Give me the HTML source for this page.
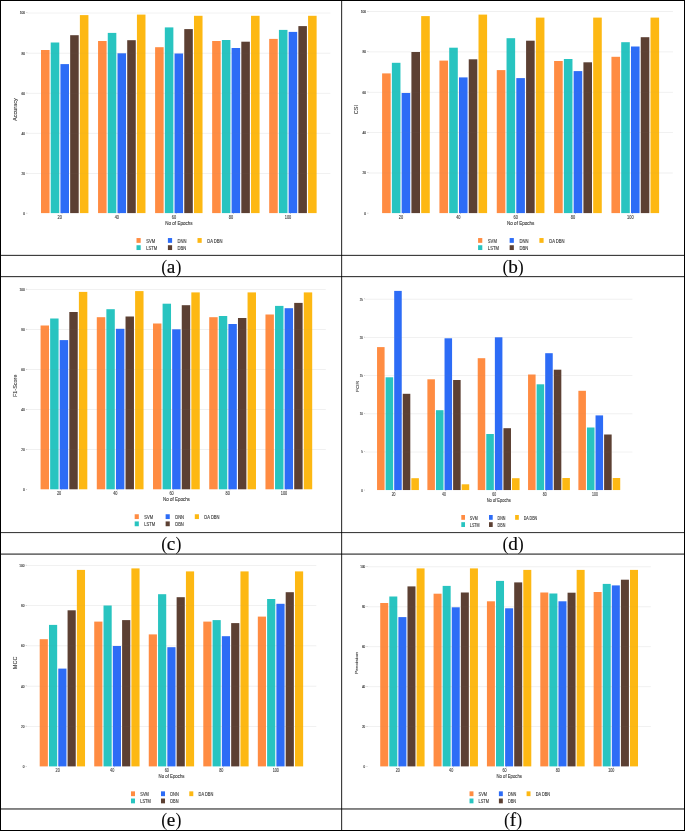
<!DOCTYPE html>
<html lang="en">
<head>
<meta charset="utf-8">
<title>Performance comparison charts</title>
<style>
html,body{margin:0;padding:0;background:#fff;}
body{width:685px;height:831px;overflow:hidden;position:relative;}
#fig{position:absolute;left:0;top:0;width:685px;height:831px;background:#fff;overflow:hidden;}
#fig svg{position:absolute;left:0;top:0;display:block;}
.chart text{white-space:pre;}
</style>
</head>
<body>
<div id="fig">
<svg width="685" height="831" viewBox="0 0 685 831" font-family="'Liberation Sans', 'DejaVu Sans', sans-serif">
<g class="chart" id="chart-a" transform="translate(1 0) scale(1.0000 1)">
<rect x="26.3" y="12.65" width="303.1" height="0.8" fill="#f3f3f3"/>
<rect x="26.3" y="52.75" width="303.1" height="0.8" fill="#f3f3f3"/>
<rect x="26.3" y="92.85" width="303.1" height="0.8" fill="#f3f3f3"/>
<rect x="26.3" y="132.85" width="303.1" height="0.8" fill="#f3f3f3"/>
<rect x="26.3" y="172.95" width="303.1" height="0.8" fill="#f3f3f3"/>
<rect x="25.4" y="12.6" width="0.9" height="0.4" fill="#666"/>
<text transform="translate(24 14.4) scale(0.2137 0.25)" font-size="15" text-anchor="end" fill="#262626" stroke="#262626" stroke-width="0.6" opacity="0.9">100</text>
<rect x="25.4" y="52.7" width="0.9" height="0.4" fill="#666"/>
<text transform="translate(24 54.5) scale(0.2137 0.25)" font-size="15" text-anchor="end" fill="#262626" stroke="#262626" stroke-width="0.6" opacity="0.9">80</text>
<rect x="25.4" y="92.8" width="0.9" height="0.4" fill="#666"/>
<text transform="translate(24 94.6) scale(0.2137 0.25)" font-size="15" text-anchor="end" fill="#262626" stroke="#262626" stroke-width="0.6" opacity="0.9">60</text>
<rect x="25.4" y="132.8" width="0.9" height="0.4" fill="#666"/>
<text transform="translate(24 134.6) scale(0.2137 0.25)" font-size="15" text-anchor="end" fill="#262626" stroke="#262626" stroke-width="0.6" opacity="0.9">40</text>
<rect x="25.4" y="172.9" width="0.9" height="0.4" fill="#666"/>
<text transform="translate(24 174.7) scale(0.2137 0.25)" font-size="15" text-anchor="end" fill="#262626" stroke="#262626" stroke-width="0.6" opacity="0.9">20</text>
<rect x="25.4" y="212.9" width="0.9" height="0.4" fill="#666"/>
<text transform="translate(24 214.7) scale(0.2137 0.25)" font-size="15" text-anchor="end" fill="#262626" stroke="#262626" stroke-width="0.6" opacity="0.9">0</text>
<rect x="40" y="50" width="8.55" height="163.1" fill="#FF8C42"/>
<rect x="49.72" y="42.5" width="8.55" height="170.6" fill="#28C4C0"/>
<rect x="59.44" y="64.1" width="8.55" height="149" fill="#2D6CF6"/>
<rect x="69.16" y="35.2" width="8.55" height="177.9" fill="#5C4033"/>
<rect x="78.88" y="15.1" width="8.55" height="198" fill="#FDB813"/>
<rect x="97.05" y="41" width="8.55" height="172.1" fill="#FF8C42"/>
<rect x="106.77" y="32.9" width="8.55" height="180.2" fill="#28C4C0"/>
<rect x="116.49" y="53.3" width="8.55" height="159.8" fill="#2D6CF6"/>
<rect x="126.21" y="40.2" width="8.55" height="172.9" fill="#5C4033"/>
<rect x="135.93" y="14.6" width="8.55" height="198.5" fill="#FDB813"/>
<rect x="154.1" y="47.2" width="8.55" height="165.9" fill="#FF8C42"/>
<rect x="163.82" y="27.4" width="8.55" height="185.7" fill="#28C4C0"/>
<rect x="173.54" y="53.5" width="8.55" height="159.6" fill="#2D6CF6"/>
<rect x="183.26" y="29.1" width="8.55" height="184" fill="#5C4033"/>
<rect x="192.98" y="15.8" width="8.55" height="197.3" fill="#FDB813"/>
<rect x="211.15" y="41" width="8.55" height="172.1" fill="#FF8C42"/>
<rect x="220.87" y="40" width="8.55" height="173.1" fill="#28C4C0"/>
<rect x="230.59" y="48" width="8.55" height="165.1" fill="#2D6CF6"/>
<rect x="240.31" y="41.7" width="8.55" height="171.4" fill="#5C4033"/>
<rect x="250.03" y="15.8" width="8.55" height="197.3" fill="#FDB813"/>
<rect x="268.2" y="38.9" width="8.55" height="174.2" fill="#FF8C42"/>
<rect x="277.92" y="29.9" width="8.55" height="183.2" fill="#28C4C0"/>
<rect x="287.64" y="31.9" width="8.55" height="181.2" fill="#2D6CF6"/>
<rect x="297.36" y="26.1" width="8.55" height="187" fill="#5C4033"/>
<rect x="307.08" y="15.8" width="8.55" height="197.3" fill="#FDB813"/>
<rect x="26.3" y="12.65" width="303.1" height="0.8" fill="#999" opacity="0.06"/>
<rect x="26.3" y="52.75" width="303.1" height="0.8" fill="#999" opacity="0.06"/>
<rect x="26.3" y="92.85" width="303.1" height="0.8" fill="#999" opacity="0.06"/>
<rect x="26.3" y="132.85" width="303.1" height="0.8" fill="#999" opacity="0.06"/>
<rect x="26.3" y="172.95" width="303.1" height="0.8" fill="#999" opacity="0.06"/>
<rect x="60.82" y="213.2" width="0.4" height="0.8" fill="#666"/>
<text transform="translate(58.8 218.95) scale(0.2137 0.25)" font-size="18.4" text-anchor="middle" fill="#262626" stroke="#262626" stroke-width="0.48" opacity="0.85">20</text>
<rect x="117.86" y="213.2" width="0.4" height="0.8" fill="#666"/>
<text transform="translate(115.85 218.95) scale(0.2137 0.25)" font-size="18.4" text-anchor="middle" fill="#262626" stroke="#262626" stroke-width="0.48" opacity="0.85">40</text>
<rect x="174.91" y="213.2" width="0.4" height="0.8" fill="#666"/>
<text transform="translate(172.9 218.95) scale(0.2137 0.25)" font-size="18.4" text-anchor="middle" fill="#262626" stroke="#262626" stroke-width="0.48" opacity="0.85">60</text>
<rect x="231.96" y="213.2" width="0.4" height="0.8" fill="#666"/>
<text transform="translate(229.95 218.95) scale(0.2137 0.25)" font-size="18.4" text-anchor="middle" fill="#262626" stroke="#262626" stroke-width="0.48" opacity="0.85">80</text>
<rect x="289.01" y="213.2" width="0.4" height="0.8" fill="#666"/>
<text transform="translate(287 218.95) scale(0.2137 0.25)" font-size="18.4" text-anchor="middle" fill="#262626" stroke="#262626" stroke-width="0.48" opacity="0.85">100</text>
<text transform="translate(177.9 224.8) scale(0.2137 0.25)" font-size="21.2" text-anchor="middle" fill="#262626" stroke="#262626" stroke-width="0.56" opacity="0.88">No of Epochs</text>
<text transform="translate(16.3 109.6) rotate(-90) scale(0.25 0.2137)" font-size="22" text-anchor="middle" fill="#262626" stroke="#262626" stroke-width="0.48" opacity="0.88">Accuracy</text>
<rect x="135.5" y="238.05" width="4.2" height="4.8" fill="#FF8C42"/>
<text transform="translate(145.2 242.65) scale(0.2137 0.25)" font-size="19.4" text-anchor="start" fill="#262626" stroke="#262626" stroke-width="0.56" opacity="0.88">SVM</text>
<rect x="135.5" y="245.23" width="4.2" height="4.8" fill="#28C4C0"/>
<text transform="translate(145.2 249.83) scale(0.2137 0.25)" font-size="19.4" text-anchor="start" fill="#262626" stroke="#262626" stroke-width="0.56" opacity="0.88">LSTM</text>
<rect x="166.9" y="238.05" width="4.2" height="4.8" fill="#2D6CF6"/>
<text transform="translate(176.6 242.65) scale(0.2137 0.25)" font-size="19.4" text-anchor="start" fill="#262626" stroke="#262626" stroke-width="0.56" opacity="0.88">DNN</text>
<rect x="166.9" y="245.23" width="4.2" height="4.8" fill="#5C4033"/>
<text transform="translate(176.6 249.83) scale(0.2137 0.25)" font-size="19.4" text-anchor="start" fill="#262626" stroke="#262626" stroke-width="0.56" opacity="0.88">DBN</text>
<rect x="196.5" y="238.05" width="4.2" height="4.8" fill="#FDB813"/>
<text transform="translate(206.2 242.65) scale(0.2137 0.25)" font-size="19.4" text-anchor="start" fill="#262626" stroke="#262626" stroke-width="0.56" opacity="0.88">DA DBN</text>
</g>
<g class="chart" id="chart-b" transform="translate(341.9 0) scale(1.0050 1)">
<rect x="26.3" y="11.15" width="303.1" height="0.8" fill="#f3f3f3"/>
<rect x="26.3" y="51.5" width="303.1" height="0.8" fill="#f3f3f3"/>
<rect x="26.3" y="91.85" width="303.1" height="0.8" fill="#f3f3f3"/>
<rect x="26.3" y="132.25" width="303.1" height="0.8" fill="#f3f3f3"/>
<rect x="26.3" y="172.6" width="303.1" height="0.8" fill="#f3f3f3"/>
<rect x="25.4" y="11.1" width="0.9" height="0.4" fill="#666"/>
<text transform="translate(24 12.9) scale(0.2137 0.25)" font-size="15" text-anchor="end" fill="#262626" stroke="#262626" stroke-width="0.6" opacity="0.9">100</text>
<rect x="25.4" y="51.45" width="0.9" height="0.4" fill="#666"/>
<text transform="translate(24 53.25) scale(0.2137 0.25)" font-size="15" text-anchor="end" fill="#262626" stroke="#262626" stroke-width="0.6" opacity="0.9">80</text>
<rect x="25.4" y="91.8" width="0.9" height="0.4" fill="#666"/>
<text transform="translate(24 93.6) scale(0.2137 0.25)" font-size="15" text-anchor="end" fill="#262626" stroke="#262626" stroke-width="0.6" opacity="0.9">60</text>
<rect x="25.4" y="132.2" width="0.9" height="0.4" fill="#666"/>
<text transform="translate(24 134) scale(0.2137 0.25)" font-size="15" text-anchor="end" fill="#262626" stroke="#262626" stroke-width="0.6" opacity="0.9">40</text>
<rect x="25.4" y="172.55" width="0.9" height="0.4" fill="#666"/>
<text transform="translate(24 174.35) scale(0.2137 0.25)" font-size="15" text-anchor="end" fill="#262626" stroke="#262626" stroke-width="0.6" opacity="0.9">20</text>
<rect x="25.4" y="212.9" width="0.9" height="0.4" fill="#666"/>
<text transform="translate(24 214.7) scale(0.2137 0.25)" font-size="15" text-anchor="end" fill="#262626" stroke="#262626" stroke-width="0.6" opacity="0.9">0</text>
<rect x="40" y="73.4" width="8.55" height="139.7" fill="#FF8C42"/>
<rect x="49.72" y="62.8" width="8.55" height="150.3" fill="#28C4C0"/>
<rect x="59.44" y="93" width="8.55" height="120.1" fill="#2D6CF6"/>
<rect x="69.16" y="52" width="8.55" height="161.1" fill="#5C4033"/>
<rect x="78.88" y="16.1" width="8.55" height="197" fill="#FDB813"/>
<rect x="97.05" y="60.6" width="8.55" height="152.5" fill="#FF8C42"/>
<rect x="106.77" y="47.7" width="8.55" height="165.4" fill="#28C4C0"/>
<rect x="116.49" y="77.4" width="8.55" height="135.7" fill="#2D6CF6"/>
<rect x="126.21" y="59.3" width="8.55" height="153.8" fill="#5C4033"/>
<rect x="135.93" y="14.6" width="8.55" height="198.5" fill="#FDB813"/>
<rect x="154.1" y="70.1" width="8.55" height="143" fill="#FF8C42"/>
<rect x="163.82" y="38.2" width="8.55" height="174.9" fill="#28C4C0"/>
<rect x="173.54" y="78.1" width="8.55" height="135" fill="#2D6CF6"/>
<rect x="183.26" y="40.7" width="8.55" height="172.4" fill="#5C4033"/>
<rect x="192.98" y="17.6" width="8.55" height="195.5" fill="#FDB813"/>
<rect x="211.15" y="61" width="8.55" height="152.1" fill="#FF8C42"/>
<rect x="220.87" y="59" width="8.55" height="154.1" fill="#28C4C0"/>
<rect x="230.59" y="71.1" width="8.55" height="142" fill="#2D6CF6"/>
<rect x="240.31" y="62.3" width="8.55" height="150.8" fill="#5C4033"/>
<rect x="250.03" y="17.6" width="8.55" height="195.5" fill="#FDB813"/>
<rect x="268.2" y="56.8" width="8.55" height="156.3" fill="#FF8C42"/>
<rect x="277.92" y="42.2" width="8.55" height="170.9" fill="#28C4C0"/>
<rect x="287.64" y="46.5" width="8.55" height="166.6" fill="#2D6CF6"/>
<rect x="297.36" y="37.2" width="8.55" height="175.9" fill="#5C4033"/>
<rect x="307.08" y="17.6" width="8.55" height="195.5" fill="#FDB813"/>
<rect x="26.3" y="11.15" width="303.1" height="0.8" fill="#999" opacity="0.06"/>
<rect x="26.3" y="51.5" width="303.1" height="0.8" fill="#999" opacity="0.06"/>
<rect x="26.3" y="91.85" width="303.1" height="0.8" fill="#999" opacity="0.06"/>
<rect x="26.3" y="132.25" width="303.1" height="0.8" fill="#999" opacity="0.06"/>
<rect x="26.3" y="172.6" width="303.1" height="0.8" fill="#999" opacity="0.06"/>
<rect x="60.82" y="213.2" width="0.4" height="0.8" fill="#666"/>
<text transform="translate(58.8 218.95) scale(0.2137 0.25)" font-size="18.4" text-anchor="middle" fill="#262626" stroke="#262626" stroke-width="0.48" opacity="0.85">20</text>
<rect x="117.86" y="213.2" width="0.4" height="0.8" fill="#666"/>
<text transform="translate(115.85 218.95) scale(0.2137 0.25)" font-size="18.4" text-anchor="middle" fill="#262626" stroke="#262626" stroke-width="0.48" opacity="0.85">40</text>
<rect x="174.91" y="213.2" width="0.4" height="0.8" fill="#666"/>
<text transform="translate(172.9 218.95) scale(0.2137 0.25)" font-size="18.4" text-anchor="middle" fill="#262626" stroke="#262626" stroke-width="0.48" opacity="0.85">60</text>
<rect x="231.96" y="213.2" width="0.4" height="0.8" fill="#666"/>
<text transform="translate(229.95 218.95) scale(0.2137 0.25)" font-size="18.4" text-anchor="middle" fill="#262626" stroke="#262626" stroke-width="0.48" opacity="0.85">80</text>
<rect x="289.01" y="213.2" width="0.4" height="0.8" fill="#666"/>
<text transform="translate(287 218.95) scale(0.2137 0.25)" font-size="18.4" text-anchor="middle" fill="#262626" stroke="#262626" stroke-width="0.48" opacity="0.85">100</text>
<text transform="translate(177.9 224.8) scale(0.2137 0.25)" font-size="21.2" text-anchor="middle" fill="#262626" stroke="#262626" stroke-width="0.56" opacity="0.88">No of Epochs</text>
<text transform="translate(16.3 109.6) rotate(-90) scale(0.25 0.2137)" font-size="22" text-anchor="middle" fill="#262626" stroke="#262626" stroke-width="0.48" opacity="0.88">CSI</text>
<rect x="135.5" y="238.05" width="4.2" height="4.8" fill="#FF8C42"/>
<text transform="translate(145.2 242.65) scale(0.2137 0.25)" font-size="19.4" text-anchor="start" fill="#262626" stroke="#262626" stroke-width="0.56" opacity="0.88">SVM</text>
<rect x="135.5" y="245.23" width="4.2" height="4.8" fill="#28C4C0"/>
<text transform="translate(145.2 249.83) scale(0.2137 0.25)" font-size="19.4" text-anchor="start" fill="#262626" stroke="#262626" stroke-width="0.56" opacity="0.88">LSTM</text>
<rect x="166.9" y="238.05" width="4.2" height="4.8" fill="#2D6CF6"/>
<text transform="translate(176.6 242.65) scale(0.2137 0.25)" font-size="19.4" text-anchor="start" fill="#262626" stroke="#262626" stroke-width="0.56" opacity="0.88">DNN</text>
<rect x="166.9" y="245.23" width="4.2" height="4.8" fill="#5C4033"/>
<text transform="translate(176.6 249.83) scale(0.2137 0.25)" font-size="19.4" text-anchor="start" fill="#262626" stroke="#262626" stroke-width="0.56" opacity="0.88">DBN</text>
<rect x="196.5" y="238.05" width="4.2" height="4.8" fill="#FDB813"/>
<text transform="translate(206.2 242.65) scale(0.2137 0.25)" font-size="19.4" text-anchor="start" fill="#262626" stroke="#262626" stroke-width="0.56" opacity="0.88">DA DBN</text>
</g>
<g class="chart" id="chart-c" transform="translate(1.15 0) scale(0.9855 1)">
<rect x="26.3" y="288.95" width="303.1" height="0.8" fill="#f3f3f3"/>
<rect x="26.3" y="329" width="303.1" height="0.8" fill="#f3f3f3"/>
<rect x="26.3" y="369.05" width="303.1" height="0.8" fill="#f3f3f3"/>
<rect x="26.3" y="409.05" width="303.1" height="0.8" fill="#f3f3f3"/>
<rect x="26.3" y="449.15" width="303.1" height="0.8" fill="#f3f3f3"/>
<rect x="25.4" y="288.9" width="0.9" height="0.4" fill="#666"/>
<text transform="translate(24 290.7) scale(0.2137 0.25)" font-size="15" text-anchor="end" fill="#262626" stroke="#262626" stroke-width="0.6" opacity="0.9">100</text>
<rect x="25.4" y="328.95" width="0.9" height="0.4" fill="#666"/>
<text transform="translate(24 330.75) scale(0.2137 0.25)" font-size="15" text-anchor="end" fill="#262626" stroke="#262626" stroke-width="0.6" opacity="0.9">80</text>
<rect x="25.4" y="369" width="0.9" height="0.4" fill="#666"/>
<text transform="translate(24 370.8) scale(0.2137 0.25)" font-size="15" text-anchor="end" fill="#262626" stroke="#262626" stroke-width="0.6" opacity="0.9">60</text>
<rect x="25.4" y="409" width="0.9" height="0.4" fill="#666"/>
<text transform="translate(24 410.8) scale(0.2137 0.25)" font-size="15" text-anchor="end" fill="#262626" stroke="#262626" stroke-width="0.6" opacity="0.9">40</text>
<rect x="25.4" y="449.1" width="0.9" height="0.4" fill="#666"/>
<text transform="translate(24 450.9) scale(0.2137 0.25)" font-size="15" text-anchor="end" fill="#262626" stroke="#262626" stroke-width="0.6" opacity="0.9">20</text>
<rect x="25.4" y="489.1" width="0.9" height="0.4" fill="#666"/>
<text transform="translate(24 490.9) scale(0.2137 0.25)" font-size="15" text-anchor="end" fill="#262626" stroke="#262626" stroke-width="0.6" opacity="0.9">0</text>
<rect x="40" y="325.5" width="8.55" height="163.8" fill="#FF8C42"/>
<rect x="49.72" y="318.5" width="8.55" height="170.8" fill="#28C4C0"/>
<rect x="59.44" y="340.1" width="8.55" height="149.2" fill="#2D6CF6"/>
<rect x="69.16" y="312" width="8.55" height="177.3" fill="#5C4033"/>
<rect x="78.88" y="291.9" width="8.55" height="197.4" fill="#FDB813"/>
<rect x="97.05" y="317.2" width="8.55" height="172.1" fill="#FF8C42"/>
<rect x="106.77" y="309.2" width="8.55" height="180.1" fill="#28C4C0"/>
<rect x="116.49" y="328.8" width="8.55" height="160.5" fill="#2D6CF6"/>
<rect x="126.21" y="316.5" width="8.55" height="172.8" fill="#5C4033"/>
<rect x="135.93" y="291.1" width="8.55" height="198.2" fill="#FDB813"/>
<rect x="154.1" y="323.5" width="8.55" height="165.8" fill="#FF8C42"/>
<rect x="163.82" y="303.7" width="8.55" height="185.6" fill="#28C4C0"/>
<rect x="173.54" y="329.3" width="8.55" height="160" fill="#2D6CF6"/>
<rect x="183.26" y="305.2" width="8.55" height="184.1" fill="#5C4033"/>
<rect x="192.98" y="292.4" width="8.55" height="196.9" fill="#FDB813"/>
<rect x="211.15" y="317.2" width="8.55" height="172.1" fill="#FF8C42"/>
<rect x="220.87" y="316" width="8.55" height="173.3" fill="#28C4C0"/>
<rect x="230.59" y="324" width="8.55" height="165.3" fill="#2D6CF6"/>
<rect x="240.31" y="318" width="8.55" height="171.3" fill="#5C4033"/>
<rect x="250.03" y="292.4" width="8.55" height="196.9" fill="#FDB813"/>
<rect x="268.2" y="314.5" width="8.55" height="174.8" fill="#FF8C42"/>
<rect x="277.92" y="305.9" width="8.55" height="183.4" fill="#28C4C0"/>
<rect x="287.64" y="308.2" width="8.55" height="181.1" fill="#2D6CF6"/>
<rect x="297.36" y="302.9" width="8.55" height="186.4" fill="#5C4033"/>
<rect x="307.08" y="292.4" width="8.55" height="196.9" fill="#FDB813"/>
<rect x="26.3" y="288.95" width="303.1" height="0.8" fill="#999" opacity="0.06"/>
<rect x="26.3" y="329" width="303.1" height="0.8" fill="#999" opacity="0.06"/>
<rect x="26.3" y="369.05" width="303.1" height="0.8" fill="#999" opacity="0.06"/>
<rect x="26.3" y="409.05" width="303.1" height="0.8" fill="#999" opacity="0.06"/>
<rect x="26.3" y="449.15" width="303.1" height="0.8" fill="#999" opacity="0.06"/>
<rect x="60.82" y="489.4" width="0.4" height="0.8" fill="#666"/>
<text transform="translate(58.8 495.15) scale(0.2137 0.25)" font-size="18.4" text-anchor="middle" fill="#262626" stroke="#262626" stroke-width="0.48" opacity="0.85">20</text>
<rect x="117.86" y="489.4" width="0.4" height="0.8" fill="#666"/>
<text transform="translate(115.85 495.15) scale(0.2137 0.25)" font-size="18.4" text-anchor="middle" fill="#262626" stroke="#262626" stroke-width="0.48" opacity="0.85">40</text>
<rect x="174.91" y="489.4" width="0.4" height="0.8" fill="#666"/>
<text transform="translate(172.9 495.15) scale(0.2137 0.25)" font-size="18.4" text-anchor="middle" fill="#262626" stroke="#262626" stroke-width="0.48" opacity="0.85">60</text>
<rect x="231.96" y="489.4" width="0.4" height="0.8" fill="#666"/>
<text transform="translate(229.95 495.15) scale(0.2137 0.25)" font-size="18.4" text-anchor="middle" fill="#262626" stroke="#262626" stroke-width="0.48" opacity="0.85">80</text>
<rect x="289.01" y="489.4" width="0.4" height="0.8" fill="#666"/>
<text transform="translate(287 495.15) scale(0.2137 0.25)" font-size="18.4" text-anchor="middle" fill="#262626" stroke="#262626" stroke-width="0.48" opacity="0.85">100</text>
<text transform="translate(177.9 501) scale(0.2137 0.25)" font-size="21.2" text-anchor="middle" fill="#262626" stroke="#262626" stroke-width="0.56" opacity="0.88">No of Epochs</text>
<text transform="translate(16.3 385.8) rotate(-90) scale(0.25 0.2137)" font-size="22" text-anchor="middle" fill="#262626" stroke="#262626" stroke-width="0.48" opacity="0.88">F1-Score</text>
<rect x="135.5" y="514.25" width="4.2" height="4.8" fill="#FF8C42"/>
<text transform="translate(145.2 518.85) scale(0.2137 0.25)" font-size="19.4" text-anchor="start" fill="#262626" stroke="#262626" stroke-width="0.56" opacity="0.88">SVM</text>
<rect x="135.5" y="521.43" width="4.2" height="4.8" fill="#28C4C0"/>
<text transform="translate(145.2 526.03) scale(0.2137 0.25)" font-size="19.4" text-anchor="start" fill="#262626" stroke="#262626" stroke-width="0.56" opacity="0.88">LSTM</text>
<rect x="166.9" y="514.25" width="4.2" height="4.8" fill="#2D6CF6"/>
<text transform="translate(176.6 518.85) scale(0.2137 0.25)" font-size="19.4" text-anchor="start" fill="#262626" stroke="#262626" stroke-width="0.56" opacity="0.88">DNN</text>
<rect x="166.9" y="521.43" width="4.2" height="4.8" fill="#5C4033"/>
<text transform="translate(176.6 526.03) scale(0.2137 0.25)" font-size="19.4" text-anchor="start" fill="#262626" stroke="#262626" stroke-width="0.56" opacity="0.88">DBN</text>
<rect x="196.5" y="514.25" width="4.2" height="4.8" fill="#FDB813"/>
<text transform="translate(206.2 518.85) scale(0.2137 0.25)" font-size="19.4" text-anchor="start" fill="#262626" stroke="#262626" stroke-width="0.56" opacity="0.88">DA DBN</text>
</g>
<g class="chart" id="chart-d" transform="translate(341.75 0) scale(0.8823 1)">
<rect x="26.3" y="298.75" width="303.1" height="0.8" fill="#f3f3f3"/>
<rect x="26.3" y="336.95" width="303.1" height="0.8" fill="#f3f3f3"/>
<rect x="26.3" y="375.25" width="303.1" height="0.8" fill="#f3f3f3"/>
<rect x="26.3" y="413.45" width="303.1" height="0.8" fill="#f3f3f3"/>
<rect x="26.3" y="451.65" width="303.1" height="0.8" fill="#f3f3f3"/>
<rect x="25.4" y="298.7" width="0.9" height="0.4" fill="#666"/>
<text transform="translate(24 300.5) scale(0.2137 0.25)" font-size="15" text-anchor="end" fill="#262626" stroke="#262626" stroke-width="0.6" opacity="0.9">25</text>
<rect x="25.4" y="336.9" width="0.9" height="0.4" fill="#666"/>
<text transform="translate(24 338.7) scale(0.2137 0.25)" font-size="15" text-anchor="end" fill="#262626" stroke="#262626" stroke-width="0.6" opacity="0.9">20</text>
<rect x="25.4" y="375.2" width="0.9" height="0.4" fill="#666"/>
<text transform="translate(24 377) scale(0.2137 0.25)" font-size="15" text-anchor="end" fill="#262626" stroke="#262626" stroke-width="0.6" opacity="0.9">15</text>
<rect x="25.4" y="413.4" width="0.9" height="0.4" fill="#666"/>
<text transform="translate(24 415.2) scale(0.2137 0.25)" font-size="15" text-anchor="end" fill="#262626" stroke="#262626" stroke-width="0.6" opacity="0.9">10</text>
<rect x="25.4" y="451.6" width="0.9" height="0.4" fill="#666"/>
<text transform="translate(24 453.4) scale(0.2137 0.25)" font-size="15" text-anchor="end" fill="#262626" stroke="#262626" stroke-width="0.6" opacity="0.9">5</text>
<rect x="25.4" y="489.85" width="0.9" height="0.4" fill="#666"/>
<text transform="translate(24 491.65) scale(0.2137 0.25)" font-size="15" text-anchor="end" fill="#262626" stroke="#262626" stroke-width="0.6" opacity="0.9">0</text>
<rect x="40" y="347.1" width="8.55" height="142.95" fill="#FF8C42"/>
<rect x="49.72" y="377.3" width="8.55" height="112.75" fill="#28C4C0"/>
<rect x="59.44" y="290.9" width="8.55" height="199.15" fill="#2D6CF6"/>
<rect x="69.16" y="393.8" width="8.55" height="96.25" fill="#5C4033"/>
<rect x="78.88" y="478.2" width="8.55" height="11.85" fill="#FDB813"/>
<rect x="97.05" y="379.3" width="8.55" height="110.75" fill="#FF8C42"/>
<rect x="106.77" y="410.2" width="8.55" height="79.85" fill="#28C4C0"/>
<rect x="116.49" y="338.3" width="8.55" height="151.75" fill="#2D6CF6"/>
<rect x="126.21" y="380" width="8.55" height="110.05" fill="#5C4033"/>
<rect x="135.93" y="484.3" width="8.55" height="5.75" fill="#FDB813"/>
<rect x="154.1" y="358.2" width="8.55" height="131.85" fill="#FF8C42"/>
<rect x="163.82" y="434" width="8.55" height="56.05" fill="#28C4C0"/>
<rect x="173.54" y="337.3" width="8.55" height="152.75" fill="#2D6CF6"/>
<rect x="183.26" y="428.2" width="8.55" height="61.85" fill="#5C4033"/>
<rect x="192.98" y="478.2" width="8.55" height="11.85" fill="#FDB813"/>
<rect x="211.15" y="374.5" width="8.55" height="115.55" fill="#FF8C42"/>
<rect x="220.87" y="384.3" width="8.55" height="105.75" fill="#28C4C0"/>
<rect x="230.59" y="353.2" width="8.55" height="136.85" fill="#2D6CF6"/>
<rect x="240.31" y="369.7" width="8.55" height="120.35" fill="#5C4033"/>
<rect x="250.03" y="478" width="8.55" height="12.05" fill="#FDB813"/>
<rect x="268.2" y="390.8" width="8.55" height="99.25" fill="#FF8C42"/>
<rect x="277.92" y="427.5" width="8.55" height="62.55" fill="#28C4C0"/>
<rect x="287.64" y="415.4" width="8.55" height="74.65" fill="#2D6CF6"/>
<rect x="297.36" y="434.5" width="8.55" height="55.55" fill="#5C4033"/>
<rect x="307.08" y="478" width="8.55" height="12.05" fill="#FDB813"/>
<rect x="26.3" y="298.75" width="303.1" height="0.8" fill="#999" opacity="0.06"/>
<rect x="26.3" y="336.95" width="303.1" height="0.8" fill="#999" opacity="0.06"/>
<rect x="26.3" y="375.25" width="303.1" height="0.8" fill="#999" opacity="0.06"/>
<rect x="26.3" y="413.45" width="303.1" height="0.8" fill="#999" opacity="0.06"/>
<rect x="26.3" y="451.65" width="303.1" height="0.8" fill="#999" opacity="0.06"/>
<rect x="60.82" y="490.15" width="0.4" height="0.8" fill="#666"/>
<text transform="translate(58.8 495.9) scale(0.2137 0.25)" font-size="18.4" text-anchor="middle" fill="#262626" stroke="#262626" stroke-width="0.48" opacity="0.85">20</text>
<rect x="117.86" y="490.15" width="0.4" height="0.8" fill="#666"/>
<text transform="translate(115.85 495.9) scale(0.2137 0.25)" font-size="18.4" text-anchor="middle" fill="#262626" stroke="#262626" stroke-width="0.48" opacity="0.85">40</text>
<rect x="174.91" y="490.15" width="0.4" height="0.8" fill="#666"/>
<text transform="translate(172.9 495.9) scale(0.2137 0.25)" font-size="18.4" text-anchor="middle" fill="#262626" stroke="#262626" stroke-width="0.48" opacity="0.85">60</text>
<rect x="231.96" y="490.15" width="0.4" height="0.8" fill="#666"/>
<text transform="translate(229.95 495.9) scale(0.2137 0.25)" font-size="18.4" text-anchor="middle" fill="#262626" stroke="#262626" stroke-width="0.48" opacity="0.85">80</text>
<rect x="289.01" y="490.15" width="0.4" height="0.8" fill="#666"/>
<text transform="translate(287 495.9) scale(0.2137 0.25)" font-size="18.4" text-anchor="middle" fill="#262626" stroke="#262626" stroke-width="0.48" opacity="0.85">100</text>
<text transform="translate(177.9 501.75) scale(0.2137 0.25)" font-size="21.2" text-anchor="middle" fill="#262626" stroke="#262626" stroke-width="0.56" opacity="0.88">No of Epochs</text>
<text transform="translate(19.2 386.55) rotate(-90) scale(0.25 0.2137)" font-size="22" text-anchor="middle" fill="#262626" stroke="#262626" stroke-width="0.48" opacity="0.88">FOR</text>
<rect x="135.5" y="515" width="4.2" height="4.8" fill="#FF8C42"/>
<text transform="translate(145.2 519.6) scale(0.2137 0.25)" font-size="19.4" text-anchor="start" fill="#262626" stroke="#262626" stroke-width="0.56" opacity="0.88">SVM</text>
<rect x="135.5" y="522.18" width="4.2" height="4.8" fill="#28C4C0"/>
<text transform="translate(145.2 526.78) scale(0.2137 0.25)" font-size="19.4" text-anchor="start" fill="#262626" stroke="#262626" stroke-width="0.56" opacity="0.88">LSTM</text>
<rect x="166.9" y="515" width="4.2" height="4.8" fill="#2D6CF6"/>
<text transform="translate(176.6 519.6) scale(0.2137 0.25)" font-size="19.4" text-anchor="start" fill="#262626" stroke="#262626" stroke-width="0.56" opacity="0.88">DNN</text>
<rect x="166.9" y="522.18" width="4.2" height="4.8" fill="#5C4033"/>
<text transform="translate(176.6 526.78) scale(0.2137 0.25)" font-size="19.4" text-anchor="start" fill="#262626" stroke="#262626" stroke-width="0.56" opacity="0.88">DBN</text>
<rect x="196.5" y="515" width="4.2" height="4.8" fill="#FDB813"/>
<text transform="translate(206.2 519.6) scale(0.2137 0.25)" font-size="19.4" text-anchor="start" fill="#262626" stroke="#262626" stroke-width="0.56" opacity="0.88">DA DBN</text>
</g>
<g class="chart" id="chart-e" transform="translate(1.47 0) scale(0.9558 1)">
<rect x="26.3" y="564.95" width="303.1" height="0.8" fill="#f3f3f3"/>
<rect x="26.3" y="605.25" width="303.1" height="0.8" fill="#f3f3f3"/>
<rect x="26.3" y="645.45" width="303.1" height="0.8" fill="#f3f3f3"/>
<rect x="26.3" y="685.75" width="303.1" height="0.8" fill="#f3f3f3"/>
<rect x="26.3" y="725.95" width="303.1" height="0.8" fill="#f3f3f3"/>
<rect x="25.4" y="564.9" width="0.9" height="0.4" fill="#666"/>
<text transform="translate(24 566.7) scale(0.2137 0.25)" font-size="15" text-anchor="end" fill="#262626" stroke="#262626" stroke-width="0.6" opacity="0.9">100</text>
<rect x="25.4" y="605.2" width="0.9" height="0.4" fill="#666"/>
<text transform="translate(24 607) scale(0.2137 0.25)" font-size="15" text-anchor="end" fill="#262626" stroke="#262626" stroke-width="0.6" opacity="0.9">80</text>
<rect x="25.4" y="645.4" width="0.9" height="0.4" fill="#666"/>
<text transform="translate(24 647.2) scale(0.2137 0.25)" font-size="15" text-anchor="end" fill="#262626" stroke="#262626" stroke-width="0.6" opacity="0.9">60</text>
<rect x="25.4" y="685.7" width="0.9" height="0.4" fill="#666"/>
<text transform="translate(24 687.5) scale(0.2137 0.25)" font-size="15" text-anchor="end" fill="#262626" stroke="#262626" stroke-width="0.6" opacity="0.9">40</text>
<rect x="25.4" y="725.9" width="0.9" height="0.4" fill="#666"/>
<text transform="translate(24 727.7) scale(0.2137 0.25)" font-size="15" text-anchor="end" fill="#262626" stroke="#262626" stroke-width="0.6" opacity="0.9">20</text>
<rect x="25.4" y="766.2" width="0.9" height="0.4" fill="#666"/>
<text transform="translate(24 768) scale(0.2137 0.25)" font-size="15" text-anchor="end" fill="#262626" stroke="#262626" stroke-width="0.6" opacity="0.9">0</text>
<rect x="40" y="639.2" width="8.55" height="127.2" fill="#FF8C42"/>
<rect x="49.72" y="624.9" width="8.55" height="141.5" fill="#28C4C0"/>
<rect x="59.44" y="668.6" width="8.55" height="97.8" fill="#2D6CF6"/>
<rect x="69.16" y="610.3" width="8.55" height="156.1" fill="#5C4033"/>
<rect x="78.88" y="569.9" width="8.55" height="196.5" fill="#FDB813"/>
<rect x="97.05" y="621.6" width="8.55" height="144.8" fill="#FF8C42"/>
<rect x="106.77" y="605.5" width="8.55" height="160.9" fill="#28C4C0"/>
<rect x="116.49" y="646" width="8.55" height="120.4" fill="#2D6CF6"/>
<rect x="126.21" y="620.1" width="8.55" height="146.3" fill="#5C4033"/>
<rect x="135.93" y="568.4" width="8.55" height="198" fill="#FDB813"/>
<rect x="154.1" y="634.4" width="8.55" height="132" fill="#FF8C42"/>
<rect x="163.82" y="594.2" width="8.55" height="172.2" fill="#28C4C0"/>
<rect x="173.54" y="647.2" width="8.55" height="119.2" fill="#2D6CF6"/>
<rect x="183.26" y="597.2" width="8.55" height="169.2" fill="#5C4033"/>
<rect x="192.98" y="571.4" width="8.55" height="195" fill="#FDB813"/>
<rect x="211.15" y="621.6" width="8.55" height="144.8" fill="#FF8C42"/>
<rect x="220.87" y="620.1" width="8.55" height="146.3" fill="#28C4C0"/>
<rect x="230.59" y="636.2" width="8.55" height="130.2" fill="#2D6CF6"/>
<rect x="240.31" y="623.1" width="8.55" height="143.3" fill="#5C4033"/>
<rect x="250.03" y="571.4" width="8.55" height="195" fill="#FDB813"/>
<rect x="268.2" y="616.6" width="8.55" height="149.8" fill="#FF8C42"/>
<rect x="277.92" y="599" width="8.55" height="167.4" fill="#28C4C0"/>
<rect x="287.64" y="603.8" width="8.55" height="162.6" fill="#2D6CF6"/>
<rect x="297.36" y="592.2" width="8.55" height="174.2" fill="#5C4033"/>
<rect x="307.08" y="571.4" width="8.55" height="195" fill="#FDB813"/>
<rect x="26.3" y="564.95" width="303.1" height="0.8" fill="#999" opacity="0.06"/>
<rect x="26.3" y="605.25" width="303.1" height="0.8" fill="#999" opacity="0.06"/>
<rect x="26.3" y="645.45" width="303.1" height="0.8" fill="#999" opacity="0.06"/>
<rect x="26.3" y="685.75" width="303.1" height="0.8" fill="#999" opacity="0.06"/>
<rect x="26.3" y="725.95" width="303.1" height="0.8" fill="#999" opacity="0.06"/>
<rect x="60.82" y="766.5" width="0.4" height="0.8" fill="#666"/>
<text transform="translate(58.8 772.25) scale(0.2137 0.25)" font-size="18.4" text-anchor="middle" fill="#262626" stroke="#262626" stroke-width="0.48" opacity="0.85">20</text>
<rect x="117.86" y="766.5" width="0.4" height="0.8" fill="#666"/>
<text transform="translate(115.85 772.25) scale(0.2137 0.25)" font-size="18.4" text-anchor="middle" fill="#262626" stroke="#262626" stroke-width="0.48" opacity="0.85">40</text>
<rect x="174.91" y="766.5" width="0.4" height="0.8" fill="#666"/>
<text transform="translate(172.9 772.25) scale(0.2137 0.25)" font-size="18.4" text-anchor="middle" fill="#262626" stroke="#262626" stroke-width="0.48" opacity="0.85">60</text>
<rect x="231.96" y="766.5" width="0.4" height="0.8" fill="#666"/>
<text transform="translate(229.95 772.25) scale(0.2137 0.25)" font-size="18.4" text-anchor="middle" fill="#262626" stroke="#262626" stroke-width="0.48" opacity="0.85">80</text>
<rect x="289.01" y="766.5" width="0.4" height="0.8" fill="#666"/>
<text transform="translate(287 772.25) scale(0.2137 0.25)" font-size="18.4" text-anchor="middle" fill="#262626" stroke="#262626" stroke-width="0.48" opacity="0.85">100</text>
<text transform="translate(177.9 778.1) scale(0.2137 0.25)" font-size="21.2" text-anchor="middle" fill="#262626" stroke="#262626" stroke-width="0.56" opacity="0.88">No of Epochs</text>
<text transform="translate(16.3 662.9) rotate(-90) scale(0.25 0.2137)" font-size="22" text-anchor="middle" fill="#262626" stroke="#262626" stroke-width="0.48" opacity="0.88">MCC</text>
<rect x="135.5" y="791.35" width="4.2" height="4.8" fill="#FF8C42"/>
<text transform="translate(145.2 795.95) scale(0.2137 0.25)" font-size="19.4" text-anchor="start" fill="#262626" stroke="#262626" stroke-width="0.56" opacity="0.88">SVM</text>
<rect x="135.5" y="798.53" width="4.2" height="4.8" fill="#28C4C0"/>
<text transform="translate(145.2 803.13) scale(0.2137 0.25)" font-size="19.4" text-anchor="start" fill="#262626" stroke="#262626" stroke-width="0.56" opacity="0.88">LSTM</text>
<rect x="166.9" y="791.35" width="4.2" height="4.8" fill="#2D6CF6"/>
<text transform="translate(176.6 795.95) scale(0.2137 0.25)" font-size="19.4" text-anchor="start" fill="#262626" stroke="#262626" stroke-width="0.56" opacity="0.88">DNN</text>
<rect x="166.9" y="798.53" width="4.2" height="4.8" fill="#5C4033"/>
<text transform="translate(176.6 803.13) scale(0.2137 0.25)" font-size="19.4" text-anchor="start" fill="#262626" stroke="#262626" stroke-width="0.56" opacity="0.88">DBN</text>
<rect x="196.5" y="791.35" width="4.2" height="4.8" fill="#FDB813"/>
<text transform="translate(206.2 795.95) scale(0.2137 0.25)" font-size="19.4" text-anchor="start" fill="#262626" stroke="#262626" stroke-width="0.56" opacity="0.88">DA DBN</text>
</g>
<g class="chart" id="chart-f" transform="translate(342.8 0) scale(0.9353 1)">
<rect x="26.3" y="566.45" width="303.1" height="0.8" fill="#f3f3f3"/>
<rect x="26.3" y="606.45" width="303.1" height="0.8" fill="#f3f3f3"/>
<rect x="26.3" y="646.35" width="303.1" height="0.8" fill="#f3f3f3"/>
<rect x="26.3" y="686.35" width="303.1" height="0.8" fill="#f3f3f3"/>
<rect x="26.3" y="726.25" width="303.1" height="0.8" fill="#f3f3f3"/>
<rect x="25.4" y="566.4" width="0.9" height="0.4" fill="#666"/>
<text transform="translate(24 568.2) scale(0.2137 0.25)" font-size="15" text-anchor="end" fill="#262626" stroke="#262626" stroke-width="0.6" opacity="0.9">100</text>
<rect x="25.4" y="606.4" width="0.9" height="0.4" fill="#666"/>
<text transform="translate(24 608.2) scale(0.2137 0.25)" font-size="15" text-anchor="end" fill="#262626" stroke="#262626" stroke-width="0.6" opacity="0.9">80</text>
<rect x="25.4" y="646.3" width="0.9" height="0.4" fill="#666"/>
<text transform="translate(24 648.1) scale(0.2137 0.25)" font-size="15" text-anchor="end" fill="#262626" stroke="#262626" stroke-width="0.6" opacity="0.9">60</text>
<rect x="25.4" y="686.3" width="0.9" height="0.4" fill="#666"/>
<text transform="translate(24 688.1) scale(0.2137 0.25)" font-size="15" text-anchor="end" fill="#262626" stroke="#262626" stroke-width="0.6" opacity="0.9">40</text>
<rect x="25.4" y="726.2" width="0.9" height="0.4" fill="#666"/>
<text transform="translate(24 728) scale(0.2137 0.25)" font-size="15" text-anchor="end" fill="#262626" stroke="#262626" stroke-width="0.6" opacity="0.9">20</text>
<rect x="25.4" y="766.2" width="0.9" height="0.4" fill="#666"/>
<text transform="translate(24 768) scale(0.2137 0.25)" font-size="15" text-anchor="end" fill="#262626" stroke="#262626" stroke-width="0.6" opacity="0.9">0</text>
<rect x="40" y="603" width="8.55" height="163.4" fill="#FF8C42"/>
<rect x="49.72" y="596.5" width="8.55" height="169.9" fill="#28C4C0"/>
<rect x="59.44" y="617.1" width="8.55" height="149.3" fill="#2D6CF6"/>
<rect x="69.16" y="586.4" width="8.55" height="180" fill="#5C4033"/>
<rect x="78.88" y="568.4" width="8.55" height="198" fill="#FDB813"/>
<rect x="97.05" y="593.7" width="8.55" height="172.7" fill="#FF8C42"/>
<rect x="106.77" y="585.9" width="8.55" height="180.5" fill="#28C4C0"/>
<rect x="116.49" y="607.3" width="8.55" height="159.1" fill="#2D6CF6"/>
<rect x="126.21" y="592.5" width="8.55" height="173.9" fill="#5C4033"/>
<rect x="135.93" y="568.4" width="8.55" height="198" fill="#FDB813"/>
<rect x="154.1" y="601.3" width="8.55" height="165.1" fill="#FF8C42"/>
<rect x="163.82" y="580.9" width="8.55" height="185.5" fill="#28C4C0"/>
<rect x="173.54" y="608.3" width="8.55" height="158.1" fill="#2D6CF6"/>
<rect x="183.26" y="582.4" width="8.55" height="184" fill="#5C4033"/>
<rect x="192.98" y="569.9" width="8.55" height="196.5" fill="#FDB813"/>
<rect x="211.15" y="592.5" width="8.55" height="173.9" fill="#FF8C42"/>
<rect x="220.87" y="593.5" width="8.55" height="172.9" fill="#28C4C0"/>
<rect x="230.59" y="601.3" width="8.55" height="165.1" fill="#2D6CF6"/>
<rect x="240.31" y="592.7" width="8.55" height="173.7" fill="#5C4033"/>
<rect x="250.03" y="569.9" width="8.55" height="196.5" fill="#FDB813"/>
<rect x="268.2" y="592" width="8.55" height="174.4" fill="#FF8C42"/>
<rect x="277.92" y="583.9" width="8.55" height="182.5" fill="#28C4C0"/>
<rect x="287.64" y="585.4" width="8.55" height="181" fill="#2D6CF6"/>
<rect x="297.36" y="579.7" width="8.55" height="186.7" fill="#5C4033"/>
<rect x="307.08" y="569.9" width="8.55" height="196.5" fill="#FDB813"/>
<rect x="26.3" y="566.45" width="303.1" height="0.8" fill="#999" opacity="0.06"/>
<rect x="26.3" y="606.45" width="303.1" height="0.8" fill="#999" opacity="0.06"/>
<rect x="26.3" y="646.35" width="303.1" height="0.8" fill="#999" opacity="0.06"/>
<rect x="26.3" y="686.35" width="303.1" height="0.8" fill="#999" opacity="0.06"/>
<rect x="26.3" y="726.25" width="303.1" height="0.8" fill="#999" opacity="0.06"/>
<rect x="60.82" y="766.5" width="0.4" height="0.8" fill="#666"/>
<text transform="translate(58.8 772.25) scale(0.2137 0.25)" font-size="18.4" text-anchor="middle" fill="#262626" stroke="#262626" stroke-width="0.48" opacity="0.85">20</text>
<rect x="117.86" y="766.5" width="0.4" height="0.8" fill="#666"/>
<text transform="translate(115.85 772.25) scale(0.2137 0.25)" font-size="18.4" text-anchor="middle" fill="#262626" stroke="#262626" stroke-width="0.48" opacity="0.85">40</text>
<rect x="174.91" y="766.5" width="0.4" height="0.8" fill="#666"/>
<text transform="translate(172.9 772.25) scale(0.2137 0.25)" font-size="18.4" text-anchor="middle" fill="#262626" stroke="#262626" stroke-width="0.48" opacity="0.85">60</text>
<rect x="231.96" y="766.5" width="0.4" height="0.8" fill="#666"/>
<text transform="translate(229.95 772.25) scale(0.2137 0.25)" font-size="18.4" text-anchor="middle" fill="#262626" stroke="#262626" stroke-width="0.48" opacity="0.85">80</text>
<rect x="289.01" y="766.5" width="0.4" height="0.8" fill="#666"/>
<text transform="translate(287 772.25) scale(0.2137 0.25)" font-size="18.4" text-anchor="middle" fill="#262626" stroke="#262626" stroke-width="0.48" opacity="0.85">100</text>
<text transform="translate(177.9 778.1) scale(0.2137 0.25)" font-size="21.2" text-anchor="middle" fill="#262626" stroke="#262626" stroke-width="0.56" opacity="0.88">No of Epochs</text>
<text transform="translate(16.3 662.9) rotate(-90) scale(0.25 0.2137)" font-size="22" text-anchor="middle" fill="#262626" stroke="#262626" stroke-width="0.48" opacity="0.88">Precision</text>
<rect x="135.5" y="791.35" width="4.2" height="4.8" fill="#FF8C42"/>
<text transform="translate(145.2 795.95) scale(0.2137 0.25)" font-size="19.4" text-anchor="start" fill="#262626" stroke="#262626" stroke-width="0.56" opacity="0.88">SVM</text>
<rect x="135.5" y="798.53" width="4.2" height="4.8" fill="#28C4C0"/>
<text transform="translate(145.2 803.13) scale(0.2137 0.25)" font-size="19.4" text-anchor="start" fill="#262626" stroke="#262626" stroke-width="0.56" opacity="0.88">LSTM</text>
<rect x="166.9" y="791.35" width="4.2" height="4.8" fill="#2D6CF6"/>
<text transform="translate(176.6 795.95) scale(0.2137 0.25)" font-size="19.4" text-anchor="start" fill="#262626" stroke="#262626" stroke-width="0.56" opacity="0.88">DNN</text>
<rect x="166.9" y="798.53" width="4.2" height="4.8" fill="#5C4033"/>
<text transform="translate(176.6 803.13) scale(0.2137 0.25)" font-size="19.4" text-anchor="start" fill="#262626" stroke="#262626" stroke-width="0.56" opacity="0.88">DBN</text>
<rect x="196.5" y="791.35" width="4.2" height="4.8" fill="#FDB813"/>
<text transform="translate(206.2 795.95) scale(0.2137 0.25)" font-size="19.4" text-anchor="start" fill="#262626" stroke="#262626" stroke-width="0.56" opacity="0.88">DA DBN</text>
</g>
<g id="captions" font-family="'Liberation Serif', 'DejaVu Serif', serif" fill="#0a0a0a">
<text class="caption" y="272.2"><tspan x="161.2" dy="0.3" font-size="17.9">(</tspan><tspan x="166.81" dy="0" font-size="19.2" stroke="#0a0a0a" stroke-width="0.2">a</tspan><tspan x="175.42" dy="0" font-size="17.9">)</tspan></text>
<text class="caption" y="272.2"><tspan x="502.52" dy="0.3" font-size="17.9">(</tspan><tspan x="508.13" dy="0" font-size="19.2" stroke="#0a0a0a" stroke-width="0.2">b</tspan><tspan x="517.8" dy="0" font-size="17.9">)</tspan></text>
<text class="caption" y="549.4"><tspan x="161.2" dy="0.3" font-size="17.9">(</tspan><tspan x="166.81" dy="0" font-size="19.2" stroke="#0a0a0a" stroke-width="0.2">c</tspan><tspan x="175.42" dy="0" font-size="17.9">)</tspan></text>
<text class="caption" y="549.4"><tspan x="502.52" dy="0.3" font-size="17.9">(</tspan><tspan x="508.13" dy="0" font-size="19.2" stroke="#0a0a0a" stroke-width="0.2">d</tspan><tspan x="517.8" dy="0" font-size="17.9">)</tspan></text>
<text class="caption" y="825.6"><tspan x="161.2" dy="0.3" font-size="17.9">(</tspan><tspan x="166.81" dy="0" font-size="19.2" stroke="#0a0a0a" stroke-width="0.2">e</tspan><tspan x="175.42" dy="0" font-size="17.9">)</tspan></text>
<text class="caption" y="825.6"><tspan x="504.11" dy="0.3" font-size="17.9">(</tspan><tspan x="509.72" dy="0" font-size="19.2" stroke="#0a0a0a" stroke-width="0.2">f</tspan><tspan x="516.21" dy="0" font-size="17.9">)</tspan></text>
</g>
<g id="borders">
<rect x="0" y="254.87" width="685" height="0.88" fill="#000"/>
<rect x="0" y="276.25" width="685" height="0.88" fill="#000"/>
<rect x="0" y="532.25" width="685" height="0.83" fill="#000"/>
<rect x="0" y="553.6" width="685" height="0.95" fill="#000"/>
<rect x="0" y="808.5" width="685" height="0.95" fill="#000"/>
<rect x="341.25" y="0" width="0.88" height="831" fill="#000"/>
<rect x="0" y="0" width="685" height="1" fill="#000"/>
<rect x="0" y="830" width="685" height="1" fill="#000"/>
<rect x="0" y="0" width="1" height="831" fill="#000"/>
<rect x="684" y="0" width="1" height="831" fill="#000"/>
</g>
</svg>


</div>
</body>
</html>
